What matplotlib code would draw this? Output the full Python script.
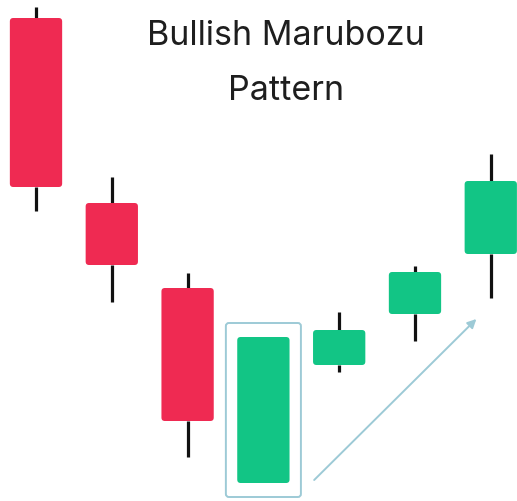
import matplotlib
matplotlib.use("Agg")
import matplotlib.pyplot as plt
from matplotlib.patches import FancyBboxPatch

# candle data (price units), left to right
opens  = [483, 298, 213, 18, 136, 187, 247]
closes = [314, 236, 80, 164, 171, 229, 320]
highs  = [494, 324, 228, 164, 189, 235, 347]
lows   = [290, 199, 44, 18, 129, 160, 203]

title_lines = ["Bullish Marubozu", "Pattern"]
highlight = 3                 # index of the marubozu candle
arrow_from = (3.67, 21)       # trend arrow, (index, price)
arrow_to = (5.81, 182)

RED = "#EF2A52"
GREEN = "#12C585"
WICK = "#111111"
BLUE = "#9DCAD6"

fig = plt.figure(figsize=(5.17, 5.01), dpi=100)
ax = fig.add_axes([0, 0, 1, 1])
ax.set_xlim(-0.475, 6.346)
ax.set_ylim(0, 501)
ax.axis("off")

width = 0.69
px = 75.8  # pixels per x unit, used to keep the corners round

for i, (o, c, h, l) in enumerate(zip(opens, closes, highs, lows)):
    color = GREEN if c > o else RED
    top, bot = max(o, c), min(o, c)
    # upper and lower wicks, only where there is a shadow
    if h > top:
        ax.plot([i, i], [top, h], color=WICK, lw=2.3, solid_capstyle="butt", zorder=1)
    if l < bot:
        ax.plot([i, i], [l, bot], color=WICK, lw=2.3, solid_capstyle="butt", zorder=1)
    body = FancyBboxPatch((i - width / 2, bot), width, top - bot,
                          boxstyle="round,pad=0,rounding_size=0.045",
                          mutation_aspect=px,
                          facecolor=color, edgecolor="none", zorder=2)
    ax.add_patch(body)

# box round the marubozu
pad_x, pad_y = 0.495, 14
o, c = opens[highlight], closes[highlight]
box = FancyBboxPatch((highlight - pad_x, min(o, c) - pad_y), 2 * pad_x,
                     abs(c - o) + 2 * pad_y,
                     boxstyle="round,pad=0,rounding_size=0.04",
                     mutation_aspect=px,
                     facecolor="none", edgecolor=BLUE, lw=1.4, zorder=3)
ax.add_patch(box)

ax.annotate("", xy=arrow_to, xytext=arrow_from,
            arrowprops=dict(arrowstyle="-|>", color=BLUE, lw=1.4,
                            mutation_scale=13, shrinkA=0, shrinkB=0))

for line, y in zip(title_lines, [0.910, 0.800]):
    fig.text(0.553, y, line, ha="center", va="baseline", fontsize=24.5,
             family="Inter", color="#1e1e1e")

fig.savefig("out.png", dpi=100, facecolor="white")
